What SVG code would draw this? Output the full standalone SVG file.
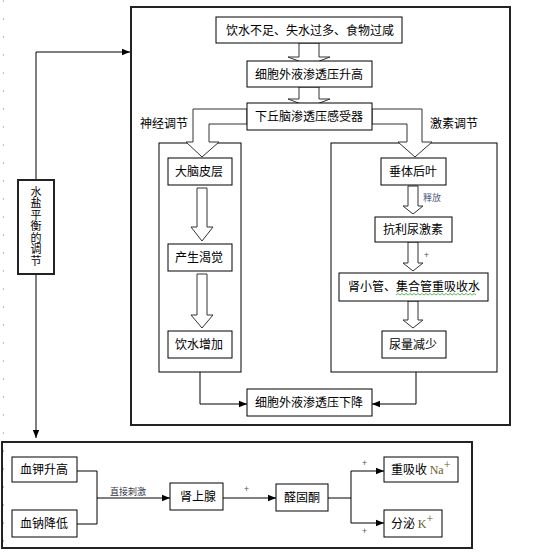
<svg xmlns="http://www.w3.org/2000/svg" width="534" height="556" viewBox="0 0 534 556">
<defs>
<marker id="ah" viewBox="0 0 10 10" refX="10" refY="5" markerWidth="8" markerHeight="8" markerUnits="userSpaceOnUse" orient="auto">
<path d="M0,1 L10,5 L0,9 z" fill="#000"/>
</marker>
</defs>
<style>
.t{font-family:"Noto Sans CJK SC","Liberation Sans",sans-serif;font-size:12px;fill:#000}
.v{font-family:"Noto Sans CJK SC","Liberation Sans",sans-serif;font-size:11px;fill:#000;writing-mode:vertical-rl;text-orientation:upright;letter-spacing:0.5px}
.s{font-family:"Noto Sans CJK SC","Liberation Sans",sans-serif;font-size:9px}
.r{font-family:"Liberation Serif","Noto Sans CJK SC",serif;font-size:12px;fill:#6b5a2a}
.b{fill:#fff;stroke:#000;stroke-width:1}
.frame{fill:none;stroke:#222;stroke-width:2}
.ha{fill:#fff;stroke:#333;stroke-width:1}
.c{fill:none;stroke:#000;stroke-width:1}
</style>
<rect width="534" height="556" fill="#fff"/>
<line x1="3.5" y1="0" x2="3.5" y2="556" stroke="#bbb" stroke-width="1" stroke-dasharray="2,16"/>

<rect class="frame" x="131" y="7" width="379" height="418"/>
<rect class="frame" x="2" y="442" width="470" height="106"/>

<g id="connectors">
<polyline class="c" points="36,180 36,52 130,52" marker-end="url(#ah)"/>
<polyline class="c" points="36,274 36,438" marker-end="url(#ah)"/>
<polyline class="c" points="200,358 200,404 247,404" marker-end="url(#ah)"/>
<polyline class="c" points="416,358 416,404 372,404" marker-end="url(#ah)"/>
<polyline class="c" points="77,471 97,471 97,524 77,524"/>
<polyline class="c" points="97,498 170,498" marker-end="url(#ah)"/>
<polyline class="c" points="223,498 276,498" marker-end="url(#ah)"/>
<polyline class="c" points="328,498 351,498"/>
<polyline class="c" points="351,498 351,471 384,471" marker-end="url(#ah)"/>
<polyline class="c" points="351,498 351,523 384,523" marker-end="url(#ah)"/>
</g>

<g id="big-arrows">
<polygon class="ha" points="299,43 319,43 319,57 330,57 309,65 288,57 299,57"/>
<polygon class="ha" points="299,87 319,87 319,99 330,99 309,107 288,99 299,99"/>
</g>

<rect class="b" x="159" y="143" width="82" height="229"/>
<rect class="b" x="331" y="143" width="166" height="229"/>

<g id="elbow-arrows">
<polygon class="ha" points="247,109 193,109 193,142 186,142 202,157 219,142 209,142 209,124 247,124"/>
<polygon class="ha" points="372,109 422,109 422,142 432,142 415,157 398,142 407,142 407,124 372,124"/>
<polygon class="ha" points="197,188 207,188 207,227 213,227 202,241 191,227 197,227"/>
<polygon class="ha" points="197,274 207,274 207,315 213,315 202,328 191,315 197,315"/>
<polygon class="ha" points="408,186 418,186 418,206 423,206 413,214 403,206 408,206"/>
<polygon class="ha" points="408,242 418,242 418,263 423,263 413,271 403,263 408,263"/>
<polygon class="ha" points="408,301 418,301 418,320 423,320 413,328 403,320 408,320"/>
</g>

<g id="n1"><rect class="b" x="216" y="17" width="186" height="26"/><text class="t" x="226" y="35">饮水不足、失水过多、食物过咸</text></g>
<g id="n2"><rect class="b" x="247" y="61" width="125" height="26"/><text class="t" x="255" y="79">细胞外液渗透压升高</text></g>
<g id="n3"><rect class="b" x="247" y="103" width="125" height="27"/><text class="t" x="255" y="121">下丘脑渗透压感受器</text></g>
<text class="t" x="140" y="128">神经调节</text>
<text class="t" x="430" y="128">激素调节</text>
<g id="n4"><rect class="b" x="168" y="158" width="64" height="27"/><text class="t" x="175" y="176">大脑皮层</text></g>
<g id="n5"><rect class="b" x="168" y="244" width="64" height="27"/><text class="t" x="175" y="262">产生渴觉</text></g>
<g id="n6"><rect class="b" x="168" y="331" width="64" height="27"/><text class="t" x="175" y="349">饮水增加</text></g>
<g id="n7"><rect class="b" x="381" y="158" width="65" height="27"/><text class="t" x="389" y="176">垂体后叶</text></g>
<text class="s" x="423" y="201" fill="#4a5a7a">释放</text>
<g id="n8"><rect class="b" x="375" y="217" width="77" height="25"/><text class="t" x="383" y="234">抗利尿激素</text></g>
<text class="s" x="424" y="258" fill="#555">+</text>
<g id="n9"><rect class="b" x="339" y="273" width="149" height="28"/><text class="t" x="348" y="291">肾小管、集合管重吸收水</text>
<polyline fill="none" stroke="#3a3" stroke-width="0.8" points="396,295 398,293.5 400,295 402,293.5 404,295 406,293.5 408,295 410,293.5 412,295 414,293.5 416,295 418,293.5 420,295 422,293.5 424,295 426,293.5 428,295 430,293.5 432,295 434,293.5 436,295 438,293.5 440,295 442,293.5 444,295 446,293.5 448,295 450,293.5 452,295 454,293.5 456,295 458,293.5 460,295 462,293.5 464,295 466,293.5 468,295 470,293.5 472,295 474,293.5 476,295"/></g>
<g id="n10"><rect class="b" x="382" y="331" width="64" height="27"/><text class="t" x="389" y="349">尿量减少</text></g>
<g id="n11"><rect class="b" x="247" y="389" width="125" height="27"/><text class="t" x="255" y="407">细胞外液渗透压下降</text></g>

<g id="n12"><rect x="18" y="180" width="36" height="94" fill="#fff" stroke="#222" stroke-width="2"/>
<text class="v" x="36" y="186">水盐平衡的调节</text></g>

<g id="n13"><rect class="b" x="12" y="457" width="65" height="25"/><text class="t" x="20" y="474">血钾升高</text></g>
<g id="n14"><rect class="b" x="12" y="510" width="65" height="27"/><text class="t" x="20" y="528">血钠降低</text></g>
<text class="s" x="110" y="495" fill="#334">直接刺激</text>
<g id="n15"><rect class="b" x="170" y="483" width="53" height="27"/><text class="t" x="180" y="501">肾上腺</text></g>
<text class="s" x="244" y="492" fill="#555">+</text>
<g id="n16"><rect class="b" x="276" y="484" width="52" height="27"/><text class="t" x="284" y="502">醛固酮</text></g>
<text class="s" x="362" y="466" fill="#555">+</text>
<text class="s" x="362" y="534" fill="#555">+</text>
<g id="n17"><rect class="b" x="384" y="457" width="74" height="25"/><text class="t" x="391" y="474">重吸收 <tspan class="r">Na</tspan><tspan class="r" font-size="8" dy="-5">+</tspan></text></g>
<g id="n18"><rect class="b" x="384" y="510" width="58" height="27"/><text class="t" x="391" y="528">分泌 <tspan class="r">K</tspan><tspan class="r" font-size="8" dy="-5">+</tspan></text></g>
</svg>
